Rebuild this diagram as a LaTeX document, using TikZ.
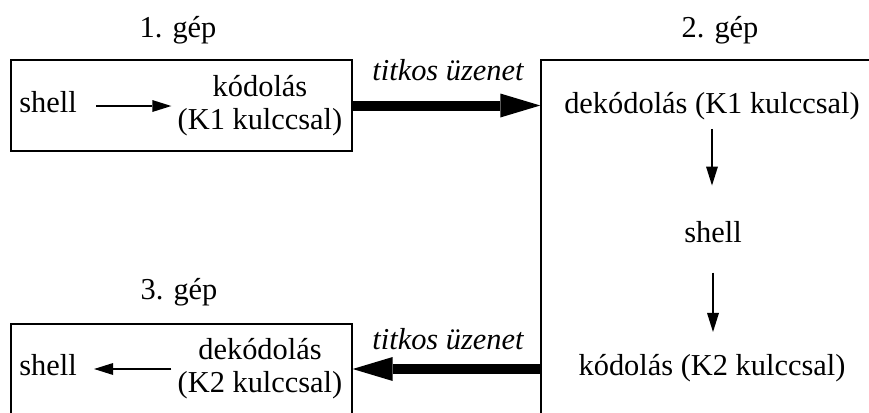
\documentclass[tikz,border=0pt]{standalone}
\usepackage{fontspec}
\setmainfont{Liberation Serif}
\usetikzlibrary{arrows.meta}

\tikzset{
	box/.style={draw,line width=0.7pt,inner sep=0pt},
	txt/.style={inner sep=3pt},
	pipe/.style={line width=5pt,-{Triangle[length=20pt,width=12pt,line width=0pt]}},
	flow/.style={line width=0.6pt,-{Triangle[length=9.5pt,width=6pt,line width=0pt]}}
}

\begin{document}
\begin{tikzpicture}[x=0.5pt,y=-0.5pt,font=\fontsize{15.2}{16.5}\selectfont]
				\clip (0,0) rectangle (869,413);
				
				\node (b1) [box,minimum width=170.5pt,minimum height=45.5pt] at (181.5,105.5) {};
				\node (b2) [box,minimum width=200pt,minimum height=200pt] at (741,260) {};
				\node (b3) [box,minimum width=170.5pt,minimum height=76pt] at (181.5,400) {};
				
				\node (g1) [txt,anchor=base] at (178,37) {1. gép};
				\node (g2) [txt,anchor=base] at (720,37) {2. gép};
				\node (g3) [txt,anchor=base] at (179,299) {3. gép};
				
				\node (v1) [txt,anchor=base] at (48,112) {shell};
				\node (v2) [txt,align=center] at (260,106) {kódolás\\(K1 kulccsal)};
				\node (v3) [txt,anchor=base] at (712,113) {dekódolás (K1 kulccsal)};
				\node (v4) [txt,anchor=base] at (713,242) {shell};
				\node (v5) [txt,anchor=base] at (712,375) {kódolás (K2 kulccsal)};
				\node (v6) [txt,anchor=base] at (48,375) {shell};
				\node (v7) [txt,align=center] at (260,369) {dekódolás\\(K2 kulccsal)};
				
				\node (t1) [txt,anchor=base] at (448,80) {\itshape titkos üzenet};
				\node (t2) [txt,anchor=base] at (448,349) {\itshape titkos üzenet};
				
				\draw [flow,shorten <=6.5pt] (v2.west -| v1.east) -- (v2.west);
				\draw [flow,shorten <=1.5pt,shorten >=14.5pt] (v3.south) -- (v3.south |- v4.north);
				\draw [flow,shorten <=12pt,shorten >=7.75pt] (v4.south) -- (v4.south |- v5.north);
				\draw [flow,shorten >=5.5pt] (v7.west) -- (v7.west -| v6.east);
				
				\draw [pipe] (b1.east) -- (b1.east -| b2.west);
				\draw [pipe] (v7 -| b2.west) -- (v7 -| b3.east);
\end{tikzpicture}
\end{document}
